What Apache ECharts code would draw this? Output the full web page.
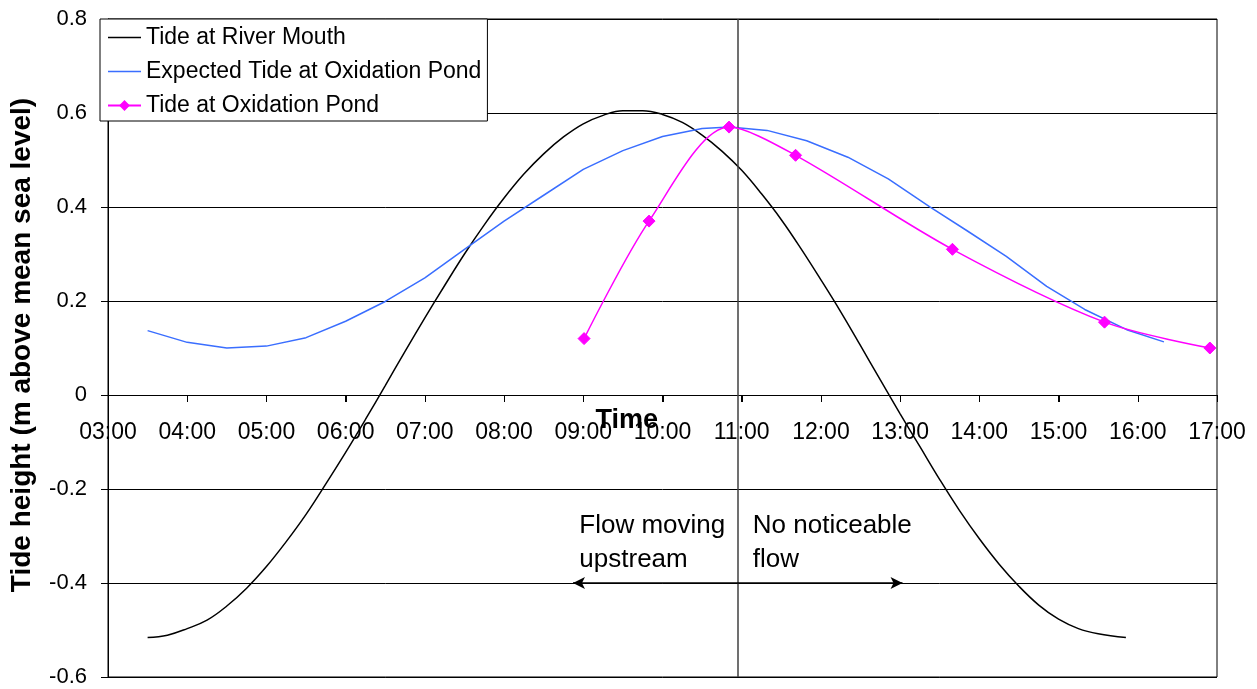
<!DOCTYPE html>
<html>
<head>
<meta charset="utf-8">
<script src="https://cdn.jsdelivr.net/npm/echarts@6/dist/echarts.min.js"></script>
<style>
html,body{margin:0;padding:0;background:#fff;}
#chart{width:1257px;height:689px;}
</style>
</head>
<body>
<div id="chart"></div>
<script>
// ---- data (time in decimal hours, height in m above mean sea level) ----
const riverTimes   = [3.5, 3.75, 4.0, 4.25, 4.5, 4.75, 5.0, 5.25, 5.5, 5.75, 6.0, 6.25, 6.5, 6.75, 7.0, 7.25, 7.5, 7.75, 8.0, 8.25, 8.5, 8.75, 9.0, 9.25, 9.5, 9.75, 10.0, 10.25, 10.5, 10.75, 11.0, 11.25, 11.5, 11.75, 12.0, 12.25, 12.5, 12.75, 13.0, 13.25, 13.5, 13.75, 14.0, 14.25, 14.5, 14.75, 15.0, 15.25, 15.5, 15.85];
const riverHeights = [-0.516, -0.511, -0.497, -0.479, -0.449, -0.411, -0.365, -0.312, -0.254, -0.189, -0.122, -0.052, 0.020, 0.093, 0.164, 0.233, 0.300, 0.362, 0.419, 0.470, 0.513, 0.549, 0.577, 0.595, 0.605, 0.605, 0.597, 0.580, 0.553, 0.519, 0.478, 0.428, 0.373, 0.311, 0.245, 0.177, 0.105, 0.032, -0.040, -0.110, -0.180, -0.246, -0.306, -0.360, -0.407, -0.447, -0.477, -0.497, -0.508, -0.516];

const expectedTimes   = [3.5, 4.0, 4.5, 5.0, 5.5, 6.0, 6.5, 7.0, 7.5, 8.0, 8.5, 9.0, 9.5, 10.0, 10.5, 10.85, 11.32, 11.82, 12.34, 12.85, 13.37, 13.84, 14.34, 14.85, 15.33, 15.86, 16.33];
const expectedHeights = [0.137, 0.112, 0.100, 0.104, 0.122, 0.157, 0.199, 0.249, 0.31, 0.37, 0.425, 0.48, 0.52, 0.55, 0.567, 0.570, 0.563, 0.541, 0.506, 0.460, 0.401, 0.350, 0.295, 0.231, 0.182, 0.139, 0.113];

const pondTimes   = [9.01, 9.83, 10.84, 11.68, 13.66, 15.58, 16.91];
const pondHeights = [0.12, 0.37, 0.57, 0.51, 0.31, 0.155, 0.10];

const hourTicks = [3, 4, 5, 6, 7, 8, 9, 10, 11, 12, 13, 14, 15, 16, 17];

const seriesNames = ['Tide at River Mouth', 'Expected Tide at Oxidation Pond', 'Tide at Oxidation Pond'];
const xAxisTitle = 'Time';
const yAxisTitle = 'Tide height (m above mean sea level)';
const annotLeft  = 'Flow moving\nupstream';
const annotRight = 'No noticeable\nflow';
const dividerTime = 10.95;
const arrowFrom = [8.87, -0.4];
const arrowTo   = [13.03, -0.4];

const pairs = (xs, ys) => xs.map((x, i) => [x, ys[i]]);
const FONT = '"Liberation Sans", Arial, sans-serif';
const LINE_ICON = 'path://M0,0L0.01,0M0,4.3L33,4.3L33,5.8L0,5.8ZM0,10L0.01,10';
const timeLabel = v => (v < 10 ? '0' : '') + Math.round(v) + ':00';

const chart = echarts.init(document.getElementById('chart'));
chart.setOption({
  animation: false,
  backgroundColor: '#fff',
  textStyle: { fontFamily: FONT },
  grid: { left: 108, right: 40, top: 19, bottom: 12, show: true, borderColor: '#000', borderWidth: 1,
          containLabel: false, outerBoundsMode: 'none' },
  legend: {
    orient: 'vertical', left: 100, top: 19,
    padding: [7, 6, 4, 7], itemGap: 11, itemWidth: 33, itemHeight: 10,
    backgroundColor: '#fff', borderColor: '#000', borderWidth: 1,
    textStyle: { fontSize: 23, color: '#000', fontFamily: FONT },
    data: [
      { name: seriesNames[0], icon: LINE_ICON, itemStyle: { color: '#000' } },
      { name: seriesNames[1], icon: LINE_ICON, itemStyle: { color: '#3A6EFF' } },
      { name: seriesNames[2] }
    ]
  },
  xAxis: {
    type: 'value', min: 3, max: 17, interval: 1, position: 'bottom',
    axisLine: { onZero: true, lineStyle: { color: '#000', width: 1 } },
    axisTick: { show: true, length: 7, lineStyle: { color: '#000', width: 1 } },
    axisLabel: { fontSize: 23, color: '#000', margin: 26, fontFamily: FONT, formatter: timeLabel },
    splitLine: { show: false }
  },
  yAxis: {
    type: 'value', min: -0.6, max: 0.8, interval: 0.2,
    axisLine: { show: true, onZero: false, lineStyle: { color: '#000', width: 1 } },
    axisTick: { show: true, length: 7, lineStyle: { color: '#000' } },
    axisLabel: { fontSize: 22, color: '#000', margin: 21, fontFamily: FONT, padding: [4, 0, 0, 0],
      formatter: v => String(Math.round(v * 10) / 10) },
    splitLine: { show: true, lineStyle: { color: '#000', width: 1 } }
  },
  series: [
    {
      name: seriesNames[0], type: 'line', data: pairs(riverTimes, riverHeights),
      smooth: 0.4, symbol: 'none', lineStyle: { color: '#000', width: 1.5 }, itemStyle: { color: '#000' },
      z: 3,
      markLine: {
        silent: true, symbol: ['none', 'none'], label: { show: false },
        lineStyle: { color: '#404040', width: 1.5, type: 'solid' },
        data: [ { xAxis: dividerTime } ]
      }
    },
    {
      name: seriesNames[1], type: 'line', data: pairs(expectedTimes, expectedHeights),
      smooth: false, symbol: 'none', lineStyle: { color: '#3A6EFF', width: 1.5 }, itemStyle: { color: '#3A6EFF' },
      z: 4,
      markLine: {
        silent: true, symbol: ['arrow', 'arrow'], symbolSize: [9, 12], label: { show: false },
        lineStyle: { color: '#000', width: 1.5, type: 'solid' },
        data: [ [ { coord: arrowFrom }, { coord: arrowTo } ] ]
      }
    },
    {
      name: seriesNames[2], type: 'line', data: pairs(pondTimes, pondHeights),
      smooth: 0.3, symbol: 'diamond', symbolSize: 12, showSymbol: true,
      lineStyle: { color: '#FF00FF', width: 1.5 },
      itemStyle: { color: '#FF00FF', borderColor: '#FF00FF', borderWidth: 1 },
      z: 5
    }
  ]
});

function finish() {
  const zeroY = chart.convertToPixel({ gridIndex: 0 }, [3, 0])[1];
  const botY  = chart.convertToPixel({ gridIndex: 0 }, [3, -0.6])[1];
  let labelsOnZero = false;
  try {
    const zr = chart.getZr();
    let ys = [];
    zr.storage.getDisplayList(true).forEach(el => {
      if (el.type === 'text' && el.style && el.style.text === '03:00') {
        const r = el.getBoundingRect(); const m = el.getComputedTransform();
        ys.push((m ? m[5] : 0) + r.y + r.height / 2);
      }
    });
    if (ys.length && Math.abs(ys[0] - zeroY) < Math.abs(ys[0] - botY)) labelsOnZero = true;
  } catch (e) {}
  if (!labelsOnZero) {
    chart.setOption({ xAxis: { axisLabel: { margin: 26 - (botY - zeroY) } } });
  }
  const ticks = hourTicks.map(h => {
    const p = chart.convertToPixel({ gridIndex: 0 }, [h, 0]);
    const px = Math.round(p[0]) + 0.5;
    const y0 = Math.round(p[1]);
    return { type: 'line', z: 100, silent: true,
      shape: { x1: px, y1: y0, x2: px, y2: y0 + 7 },
      style: { stroke: '#000', lineWidth: 1 } };
  });
  const pL = chart.convertToPixel({ gridIndex: 0 }, [8.95, -0.314]);
  const pR = chart.convertToPixel({ gridIndex: 0 }, [11.14, -0.314]);
  const pT = chart.convertToPixel({ gridIndex: 0 }, [9.55, 0]);
  chart.setOption({
    graphic: ticks.concat([
      { type: 'text', x: pL[0], y: pL[1], z: 10,
        style: { text: annotLeft, font: '26px ' + FONT, fill: '#000', textAlign: 'left', textVerticalAlign: 'middle', lineHeight: 34 } },
      { type: 'text', x: pR[0], y: pR[1], z: 10,
        style: { text: annotRight, font: '26px ' + FONT, fill: '#000', textAlign: 'left', textVerticalAlign: 'middle', lineHeight: 34 } },
      { type: 'text', x: pT[0], y: pT[1] + 26, z: 10,
        style: { text: xAxisTitle, font: 'bold 27px ' + FONT, fill: '#000', textAlign: 'center', textVerticalAlign: 'middle' } },
      { type: 'text', x: 22, y: 345, rotation: Math.PI / 2, z: 10,
        style: { text: yAxisTitle, font: 'bold 28px ' + FONT, fill: '#000', textAlign: 'center', textVerticalAlign: 'middle' } }
    ])
  });
}
finish();
</script>
</body>
</html>
